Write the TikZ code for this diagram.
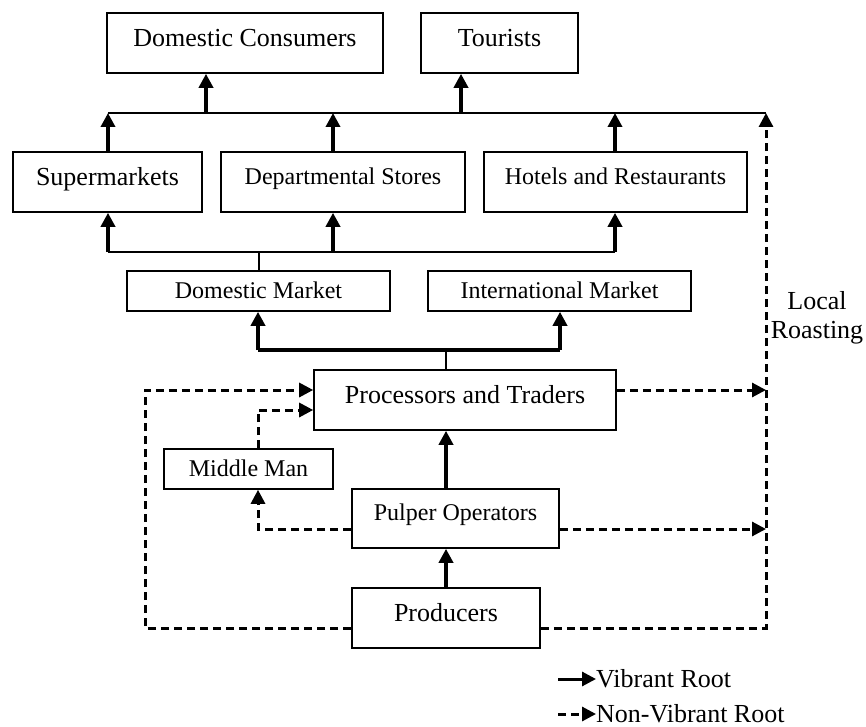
\documentclass[tikz,border=0pt]{standalone}
\usepackage{fontspec}
\setmainfont{Liberation Serif}
\usetikzlibrary{arrows.meta}
\begin{document}
\begin{tikzpicture}[x=1pt,y=-1pt,
  box/.style={draw,line width=1.6pt,inner sep=0pt,anchor=center},
  bigfont/.style={font=\fontsize{26}{29}\selectfont},
  smallfont/.style={font=\fontsize{24}{27}\selectfont},
  tallbig/.style={box,bigfont,text height=17.2pt,text depth=11pt},
  tallsmall/.style={box,smallfont,text height=15.9pt,text depth=11pt},
  lowsmall/.style={box,smallfont,text height=15.9pt,text depth=0pt},
  vib/.style={line width=3.5pt,-{Triangle[width=14pt,length=14pt]}},
  nonvib/.style={line width=3pt,dash pattern=on 8pt off 5pt,-{Triangle[width=14pt,length=14pt]}},
  thinline/.style={line width=2pt},
  busthick/.style={line width=3.5pt}
]
\useasboundingbox (0,0) rectangle (866,727);

% boxes
\node[tallbig,minimum width=276pt,minimum height=60pt] (dc) at (245,43) {Domestic Consumers};
\node[tallbig,minimum width=157pt,minimum height=60pt] (tour) at (499.5,43) {Tourists};
\node[tallbig,minimum width=189pt,minimum height=60pt] (sup) at (107.5,182) {Supermarkets};
\node[tallsmall,minimum width=244pt,minimum height=60pt] (dep) at (343,182) {Departmental Stores};
\node[tallsmall,minimum width=263pt,minimum height=60pt] (hot) at (615.5,182) {Hotels and Restaurants};
\node[lowsmall,minimum width=263pt,minimum height=40pt] (dm) at (258.5,291) {Domestic Market};
\node[lowsmall,minimum width=263pt,minimum height=40pt] (im) at (559.5,291) {International Market};
\node[tallbig,minimum width=302pt,minimum height=60pt] (proc) at (465,400) {Processors and Traders};
\node[lowsmall,minimum width=169pt,minimum height=40pt] (mm) at (248.5,469) {Middle Man};
\node[tallsmall,minimum width=207pt,minimum height=59pt] (pulp) at (455.5,518.5) {Pulper Operators};
\node[tallbig,minimum width=188pt,minimum height=60pt] (prod) at (446,618) {Producers};

\node[bigfont,align=center,inner sep=0pt] (local) at (817,318) {Local\\Roasting};

% helper coordinates
\coordinate (tb1) at (108,113);
\coordinate (tb2) at (766,113);
\coordinate (xdc) at (206,0);
\coordinate (xto) at (461,0);
\coordinate (xdep) at (333,0);
\coordinate (mb1) at (108,252);
\coordinate (mb2) at (615,252);
\coordinate (bb1) at (258,350);
\coordinate (bb2) at (560,350);
\coordinate (xc) at (446,0);
\coordinate (c1) at (145,628);
\coordinate (c2) at (145,390);
\coordinate (r1) at (766,628);
\coordinate (r2) at (766,390);
\coordinate (r3) at (766,529);
\coordinate (m1) at (258,529);
\coordinate (m2) at (258,410);
\coordinate (xm) at (258,0);

% top bus
\draw[thinline] (tb1) -- (tb2);
\draw[vib] (tb1 -| xdc) -- (dc.south -| xdc);
\draw[vib] (tb1 -| xto) -- (tour.south -| xto);
\draw[vib] (sup.north -| tb1) -- (tb1);
\draw[vib] (dep.north -| xdep) -- (tb1 -| xdep);
\draw[vib] (hot.north -| mb2) -- (tb1 -| mb2);

% middle bus
\draw[thinline] (mb1) -- (mb2);
\draw[thinline] (dm.north) -- (dm.north |- mb1);
\draw[vib] (mb1) -- (sup.south -| mb1);
\draw[vib] (mb1 -| xdep) -- (dep.south -| xdep);
\draw[vib] (mb2) -- (hot.south -| mb2);

% bottom bus
\draw[busthick] (bb1) -- (bb2);
\draw[thinline] (proc.north -| xc) -- (bb1 -| xc);
\draw[vib] (bb1) -- (dm.south -| bb1);
\draw[vib] (bb2) -- (im.south -| bb2);

% vibrant chain
\draw[vib] (pulp.north -| xc) -- (proc.south -| xc);
\draw[vib] (prod.north -| xc) -- (pulp.south -| xc);

% non-vibrant routes
\draw[nonvib] ([yshift=-10pt]prod.west) -- (c1) -- (c2) -- ([yshift=10pt]proc.west);
\draw[nonvib] ([yshift=-10pt]prod.east) -- (r1) -- (tb2);
\draw[nonvib] ([yshift=10pt]proc.east) -- (r2);
\draw[nonvib] ([yshift=-10.5pt]pulp.east) -- (r3);
\draw[nonvib] ([yshift=-10.5pt]pulp.west) -- (m1) -- (mm.south -| m1);
\draw[nonvib] (mm.north -| xm) -- (m2) -- ([yshift=-10pt]proc.west);

% legend
\coordinate (la1) at (558,679);
\coordinate (lb1) at (558,714);
\node[bigfont,anchor=west,inner sep=0pt] (lvib) at (596,679) {Vibrant Root};
\node[bigfont,anchor=west,inner sep=0pt] (lnon) at (596,714) {Non-Vibrant Root};
\draw[vib,line width=3pt] (la1) -- (lvib.west);
\draw[nonvib] (lb1) -- (lnon.west);
\end{tikzpicture}
\end{document}
